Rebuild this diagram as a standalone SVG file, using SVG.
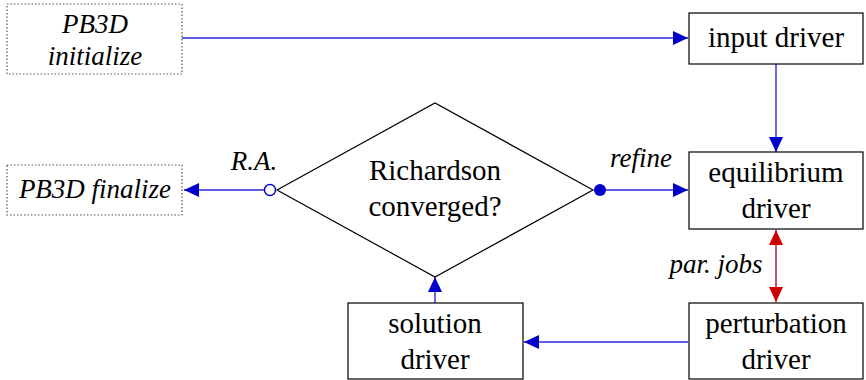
<svg xmlns="http://www.w3.org/2000/svg" width="866" height="380" viewBox="0 0 866 380">
  <defs>
    <marker id="arrow" markerWidth="16" markerHeight="16" refX="15" refY="8" orient="auto" markerUnits="userSpaceOnUse">
      <path d="M0,1 L15,8 L0,15 Z" fill="#0000cc"/>
    </marker>
    <marker id="redArrowEnd" markerWidth="16" markerHeight="16" refX="15" refY="8" orient="auto" markerUnits="userSpaceOnUse">
      <path d="M0,1 L15,8 L0,15 Z" fill="#cc0000"/>
    </marker>
    <marker id="redArrowStart" markerWidth="16" markerHeight="16" refX="1" refY="8" orient="auto" markerUnits="userSpaceOnUse">
      <path d="M16,1 L1,8 L16,15 Z" fill="#cc0000"/>
    </marker>
  </defs>
  <style>
    .box { fill: #ffffff; stroke: #000000; stroke-width: 1.2; }
    .dotted { fill: #ffffff; stroke: #555555; stroke-width: 1.2; stroke-dasharray: 1.5 2; }
    .wire { fill: none; stroke: #2a2ad8; stroke-width: 1.4; }
  </style>

  <rect width="866" height="380" fill="#ffffff"/>

  <g id="connectors">
    <line class="wire" x1="182" y1="38" x2="688" y2="38" marker-end="url(#arrow)"/>
    <line class="wire" x1="776" y1="64" x2="776" y2="152" marker-end="url(#arrow)"/>
    <line class="wire" x1="600" y1="190" x2="688" y2="190" marker-end="url(#arrow)"/>
    <circle cx="600" cy="190" r="6" fill="#0000cc"/>
    <line class="wire" x1="264" y1="190" x2="184" y2="190" marker-end="url(#arrow)"/>
    <circle cx="270" cy="190" r="5.5" fill="#ffffff" stroke="#0000cc" stroke-width="1.4"/>
    <line x1="776" y1="230" x2="776" y2="302" stroke="#b0285a" stroke-width="1.6" marker-start="url(#redArrowStart)" marker-end="url(#redArrowEnd)"/>
    <line class="wire" x1="688" y1="342" x2="524" y2="342" marker-end="url(#arrow)"/>
    <line class="wire" x1="435" y1="303" x2="435" y2="277" marker-end="url(#arrow)"/>
    <text x="254" y="170" text-anchor="middle" font-family="Liberation Serif" font-size="27" font-style="italic">R.A.</text>
    <text x="641" y="167" text-anchor="middle" font-family="Liberation Serif" font-size="27" font-style="italic">refine</text>
    <text x="716" y="273" text-anchor="middle" font-family="Liberation Serif" font-size="27" font-style="italic">par. jobs</text>
  </g>

  <g id="init">
    <rect class="dotted" x="7" y="4" width="175" height="70"/>
    <text x="95" y="33" text-anchor="middle" font-family="Liberation Serif" font-size="27" font-style="italic">PB3D</text>
    <text x="95" y="65" text-anchor="middle" font-family="Liberation Serif" font-size="27" font-style="italic">initialize</text>
  </g>

  <g id="finalize">
    <rect class="dotted" x="7" y="165" width="175" height="50"/>
    <text x="95" y="198" text-anchor="middle" font-family="Liberation Serif" font-size="27" font-style="italic">PB3D finalize</text>
  </g>

  <g id="decision">
    <polygon points="277,190 435,103 593,190 435,277" fill="#ffffff" stroke="#000000" stroke-width="1.2"/>
    <text x="435" y="180" text-anchor="middle" font-family="Liberation Serif" font-size="29">Richardson</text>
    <text x="435" y="216" text-anchor="middle" font-family="Liberation Serif" font-size="29">converged?</text>
  </g>

  <g id="input">
    <rect class="box" x="689" y="13" width="174" height="51"/>
    <text x="776" y="47" text-anchor="middle" font-family="Liberation Serif" font-size="29">input driver</text>
  </g>

  <g id="equilibrium">
    <rect class="box" x="689" y="152" width="174" height="77"/>
    <text x="776" y="182" text-anchor="middle" font-family="Liberation Serif" font-size="29">equilibrium</text>
    <text x="776" y="218" text-anchor="middle" font-family="Liberation Serif" font-size="29">driver</text>
  </g>

  <g id="perturbation">
    <rect class="box" x="689" y="303" width="174" height="76"/>
    <text x="776" y="333" text-anchor="middle" font-family="Liberation Serif" font-size="29">perturbation</text>
    <text x="776" y="369" text-anchor="middle" font-family="Liberation Serif" font-size="29">driver</text>
  </g>

  <g id="solution">
    <rect class="box" x="348" y="303" width="175" height="76"/>
    <text x="435" y="333" text-anchor="middle" font-family="Liberation Serif" font-size="29">solution</text>
    <text x="435" y="369" text-anchor="middle" font-family="Liberation Serif" font-size="29">driver</text>
  </g>
</svg>
